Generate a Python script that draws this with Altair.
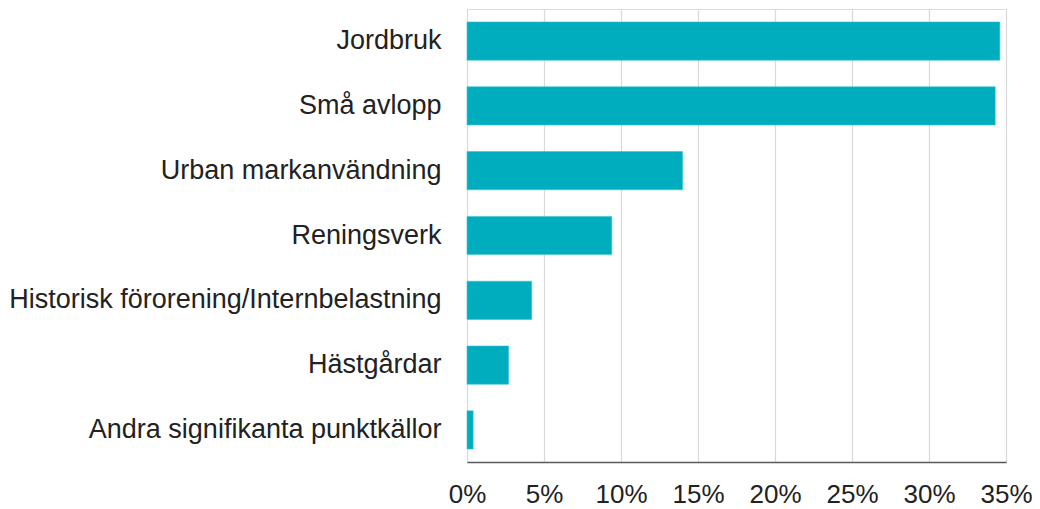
import altair as alt
import pandas as pd

categories = [
    "Jordbruk",
    "Små avlopp",
    "Urban markanvändning",
    "Reningsverk",
    "Historisk förorening/Internbelastning",
    "Hästgårdar",
    "Andra signifikanta punktkällor",
]
values = [0.346, 0.343, 0.140, 0.094, 0.042, 0.027, 0.004]
x_ticks = [0, 0.05, 0.10, 0.15, 0.20, 0.25, 0.30, 0.35]

df = pd.DataFrame({"kategori": categories, "andel": values})

chart = (
    alt.Chart(df)
    .mark_bar(color="#00ADBE", stroke="#3CC3CF", strokeWidth=0.6)
    .encode(
        x=alt.X(
            "andel:Q",
            scale=alt.Scale(domain=[0, 0.35], nice=False),
            axis=alt.Axis(
                values=x_ticks,
                format=".0%",
                title=None,
                ticks=False,
                domain=True,
                domainColor="#595959",
                domainWidth=1.5,
                grid=True,
                gridColor="#D9D9D9",
                gridWidth=1.2,
                labelFont="Liberation Sans",
                labelFontSize=26,
                labelColor="#222222",
                labelPadding=19,
                labelFlush=False,
                labelOverlap=False,
            ),
        ),
        y=alt.Y(
            "kategori:N",
            sort=categories,
            scale=alt.Scale(paddingInner=0.41, paddingOuter=0.2),
            axis=alt.Axis(
                title=None,
                ticks=False,
                domain=False,
                grid=False,
                labelFont="Liberation Sans",
                labelFontSize=27,
                labelColor="#222222",
                labelPadding=26,
                labelLimit=600,
            ),
        ),
    )
    .properties(
        width=539,
        height=453,
        autosize=alt.AutoSizeParams(type="none"),
        padding={"left": 459, "top": 1, "right": 26, "bottom": 46},
    )
    .configure_view(stroke=None)
    .configure(background="white")
)

chart.save("out.html", embed_options={"renderer": "svg", "actions": False})
